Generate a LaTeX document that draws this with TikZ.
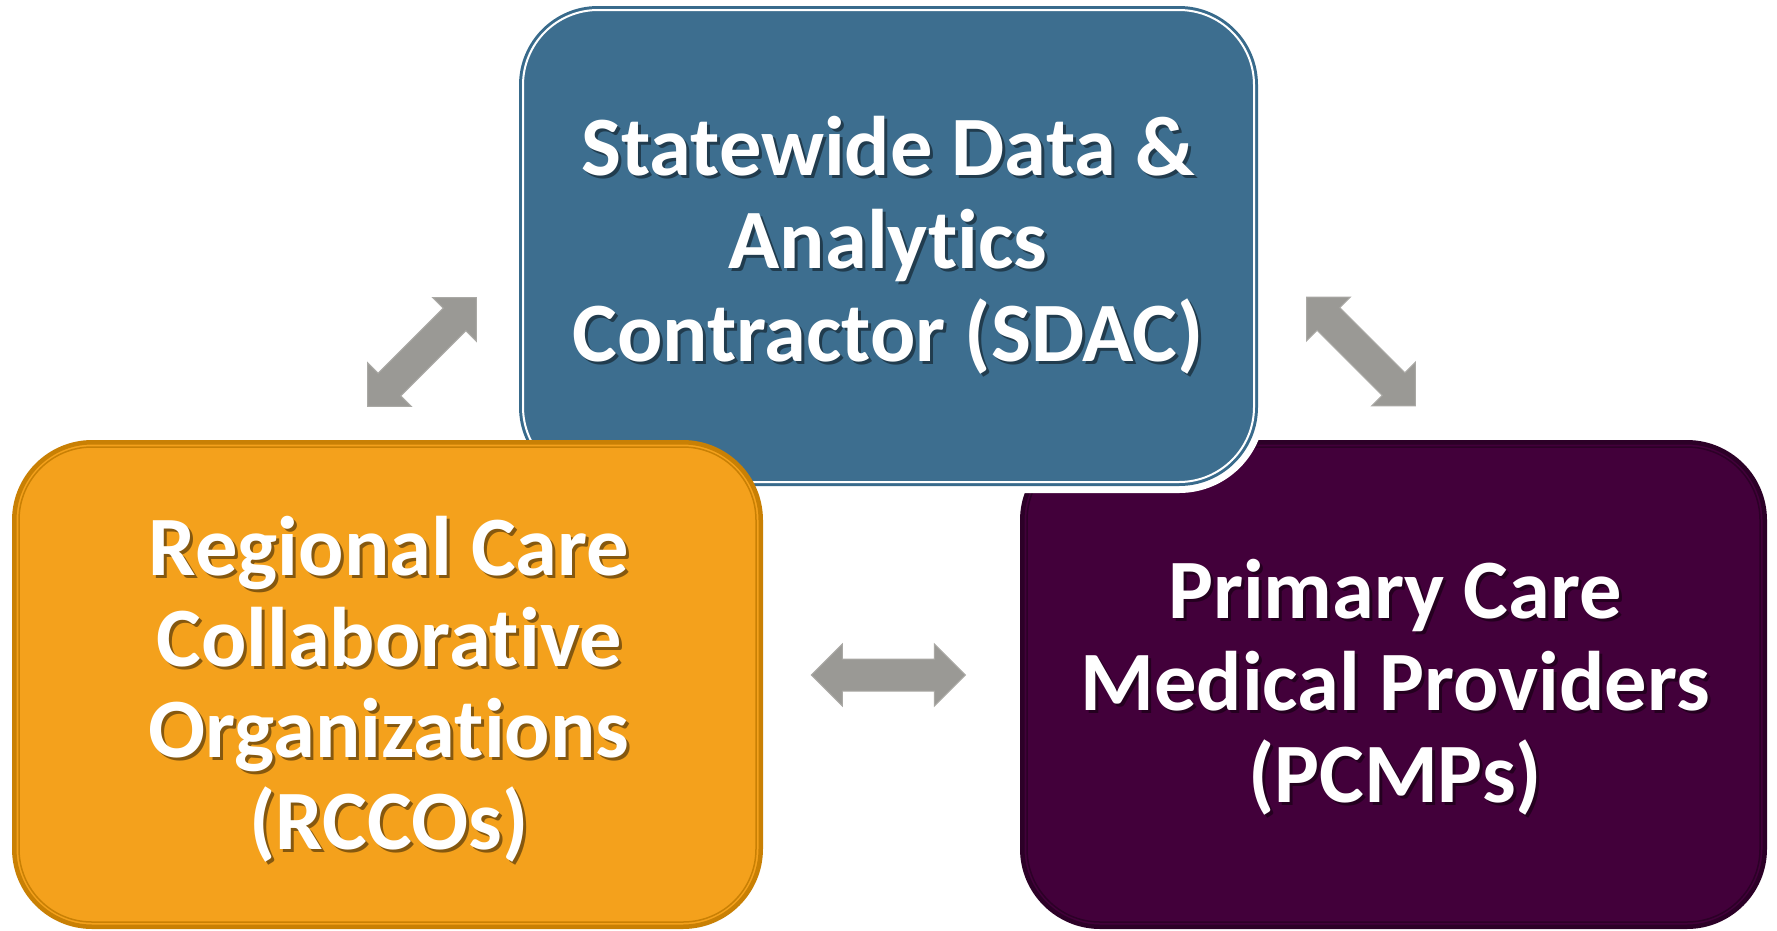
\documentclass[tikz,border=0pt]{standalone}
\usepackage{fontspec}
\setmainfont{Carlito}[Ligatures={NoCommon}]
\usetikzlibrary{calc}
\definecolor{bluefill}{HTML}{3D6E8F}
\definecolor{blueline}{HTML}{386A8B}
\definecolor{orfill}{HTML}{F4A11C}
\definecolor{ordark}{HTML}{C98004}
\definecolor{pufill}{HTML}{42003A}
\definecolor{pudark}{HTML}{2C0027}
\definecolor{arrowc}{HTML}{9A9995}
\definecolor{arrowedge}{HTML}{AAA9A5}
\tikzset{
  boxshape/.style={rectangle, inner sep=0pt, outer sep=0pt, rounded corners=78pt},
  lbl/.style={font=\fontsize{84.5}{92}\selectfont\bfseries, text=white, inner sep=0pt, anchor=base},
  shadowtxt/.style={font=\fontsize{84.5}{92}\selectfont\bfseries, text=black, inner sep=0pt, anchor=base},
  blockarrow/.style={fill=arrowc, draw=arrowedge, line width=1pt, line join=miter}
}
\newcommand\txtline[4]{%
  \node[shadowtxt, opacity=0.45] at (#2+3,#3+3.5) {#4};
  \node[lbl] (#1) at (#2,#3) {#4};}
\newcommand\dblarrow{%
  (-77,0) -- (-46,31) -- (-46,16) -- (46,16) -- (46,31) -- (77,0) -- (46,-31) -- (46,-16) -- (-46,-16) -- (-46,-31) -- cycle}
\begin{document}
\begin{tikzpicture}[x=1pt,y=-1pt]
\useasboundingbox (0,0) rectangle (1777,930);
\fill[white] (0,0) rectangle (1777,930);

% purple box (bottom right)
\node[boxshape, fill=pufill, draw=pudark, line width=4.5pt,
      minimum width=742.5pt, minimum height=484.5pt] (pcmp) at (1393.5,684.5) {};
\draw[pudark, line width=1.5pt, rounded corners=73pt]
  ($(pcmp.north west)+(4.75,4.75)$) rectangle ($(pcmp.south east)+(-4.75,-4.75)$);

% blue box (top) with white halo
\node[boxshape, draw=white, line width=16pt,
      minimum width=737pt, minimum height=478pt] (sdachalo) at (888.5,246) {};
\node[boxshape, fill=bluefill, draw=blueline, line width=2pt,
      minimum width=737pt, minimum height=478pt] (sdac) at (888.5,246) {};
\draw[white, line width=2pt, rounded corners=75pt]
  ($(sdac.north west)+(3,3)$) rectangle ($(sdac.south east)+(-3,-3)$);

% orange box (bottom left)
\node[boxshape, fill=orfill, draw=ordark, line width=4.5pt,
      minimum width=746.5pt, minimum height=484.5pt] (rcco) at (387.5,684.5) {};
\draw[ordark, line width=1.5pt, rounded corners=73pt]
  ($(rcco.north west)+(4.75,4.75)$) rectangle ($(rcco.south east)+(-4.75,-4.75)$);

% texts
\txtline{s1}{888}{175}{Statewide Data \&}
\txtline{s2}{888}{268}{Analytics}
\txtline{s3}{888}{361}{Contractor (SDAC)}

\txtline{r1}{389}{575}{Regional Care}
\txtline{r2}{389}{666}{Collaborative}
\txtline{r3}{389}{757}{Organizations}
\txtline{r4}{389}{849}{(RCCOs)}

\txtline{p1}{1395}{618}{Primary Care}
\txtline{p2}{1395}{710}{Medical Providers}
\txtline{p3}{1395}{802}{(PCMPs)}

% block arrows
\begin{scope}[shift={(422,352)}, rotate=45]
  \path[blockarrow] \dblarrow;
\end{scope}
\begin{scope}[shift={(1361,351.5)}, rotate=-45]
  \path[blockarrow] \dblarrow;
\end{scope}
\begin{scope}[shift={(888.3,675)}]
  \path[blockarrow] \dblarrow;
\end{scope}
\end{tikzpicture}
\end{document}
